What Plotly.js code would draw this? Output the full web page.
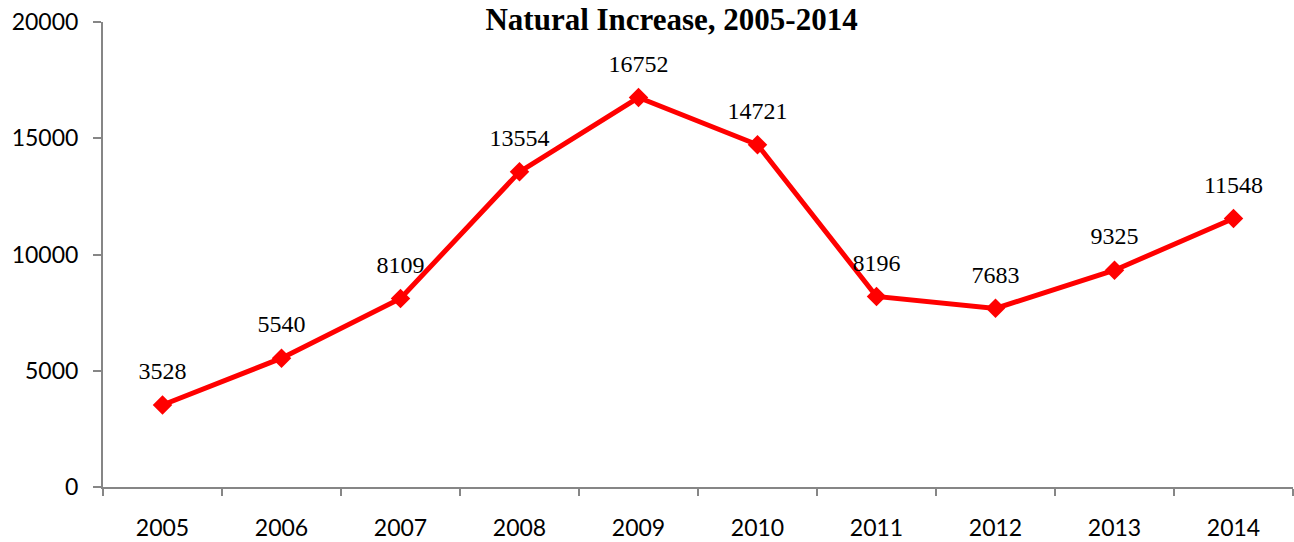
<!DOCTYPE html>
<html>
<head>
<meta charset="utf-8">
<script src="https://cdn.plot.ly/plotly-3.0.1.min.js"></script>
<style>
  html, body { margin: 0; padding: 0; background: #fff; }
  #chart { width: 1294px; height: 542px; }
</style>
</head>
<body>
<div id="chart"></div>
<script>
// natural increase by year
var years = ['2005', '2006', '2007', '2008', '2009', '2010', '2011', '2012', '2013', '2014'];
var increase = [3528, 5540, 8109, 13554, 16752, 14721, 8196, 7683, 9325, 11548];

var serif = '"Liberation Serif", "Times New Roman", serif';
var sans = 'Lato, "Open Sans", sans-serif';
var axisGrey = '#868686';

var line = {
  x: years,
  y: increase,
  type: 'scatter',
  mode: 'lines+markers',
  line: {color: '#ff0000', width: 5},
  marker: {symbol: 'diamond', size: 15, color: '#ff0000'},
  cliponaxis: false,
  hoverinfo: 'x+y'
};

// value labels: invisible big markers push the text up off the line
var valueLabels = {
  x: years,
  y: increase,
  type: 'scatter',
  mode: 'markers+text',
  text: increase.map(String),
  textposition: 'top center',
  textfont: {family: serif, size: 24, color: '#000'},
  marker: {size: 30, color: 'rgba(0,0,0,0)'},
  cliponaxis: false,
  hoverinfo: 'skip'
};

var layout = {
  width: 1294,
  height: 542,
  margin: {l: 103, r: 1, t: 22, b: 55},
  paper_bgcolor: '#fff',
  plot_bgcolor: '#fff',
  showlegend: false,
  title: {
    text: '<b>Natural Increase, 2005-2014</b>',
    font: {family: serif, size: 31, color: '#000'},
    xref: 'container', x: 0.519, xanchor: 'center',
    yref: 'container', y: 0.965, yanchor: 'middle'
  },
  xaxis: {
    type: 'category',
    range: [-0.5, 9.5],
    showgrid: false,
    showline: true,
    linecolor: axisGrey,
    linewidth: 2,
    ticks: 'outside',
    tickson: 'boundaries',
    ticklen: 7,
    tickwidth: 2,
    tickcolor: axisGrey,
    ticklabelstandoff: 19,
    tickfont: {family: sans, size: 23, color: '#000'},
    zeroline: false
  },
  yaxis: {
    range: [0, 20000],
    dtick: 5000,
    showgrid: false,
    showline: true,
    linecolor: axisGrey,
    linewidth: 2,
    ticks: 'outside',
    ticklen: 8,
    tickwidth: 2,
    tickcolor: axisGrey,
    ticklabelstandoff: 10,
    tickformat: 'd',
    tickfont: {family: sans, size: 23, color: '#000'},
    zeroline: false
  }
};

Plotly.newPlot('chart', [line, valueLabels], layout, {displayModeBar: false, staticPlot: true});
</script>
</body>
</html>
